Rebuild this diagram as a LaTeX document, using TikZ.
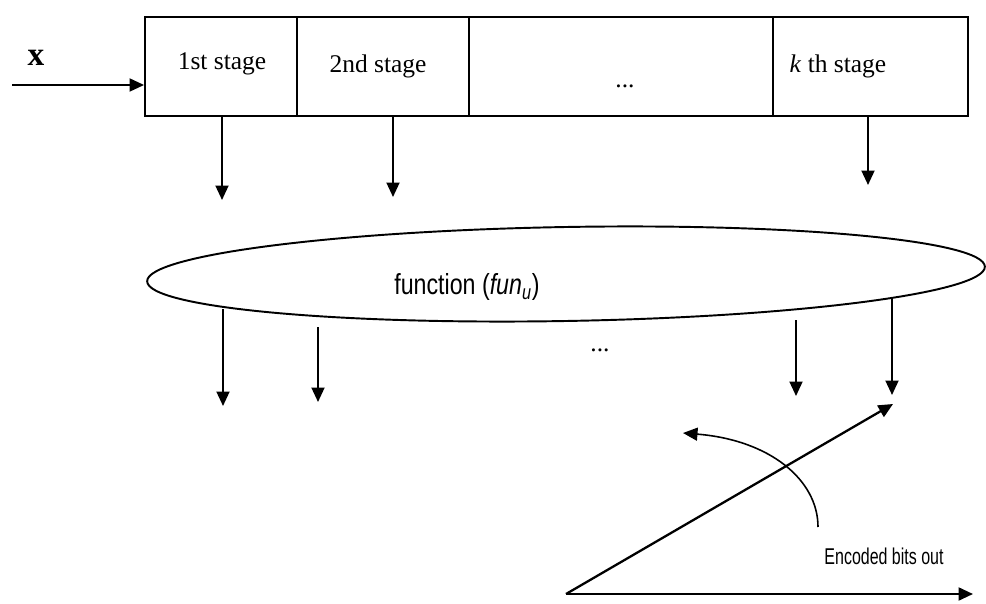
\documentclass[tikz,border=0pt]{standalone}
\usepackage{fontspec}
\setmainfont{Liberation Serif}
\newfontfamily\narrowsf[FakeStretch=0.8]{Liberation Sans}
\newfontfamily\encsf[FakeStretch=0.7]{Liberation Sans}
\usetikzlibrary{arrows.meta,shapes.geometric}

\begin{document}
\begin{tikzpicture}[x=0.02cm,y=-0.02cm,>={Triangle[length=2.9mm,width=2.6mm]},line width=1.1pt,
  stage/.style={rectangle,draw,minimum height=1.98cm,inner sep=0pt},
  lbl/.style={inner sep=0pt,font=\fontsize{14.5}{16}\selectfont},
  sflbl/.style={inner sep=0pt,font=\narrowsf\fontsize{16.5}{18}\selectfont},
  enclbl/.style={inner sep=0pt,font=\encsf\fontsize{13}{15}\selectfont}]
  \useasboundingbox (0,0) rectangle (986,604);
  % stages
  \node[stage,minimum width=3.04cm] (s1) at (221,66.5) {};
  \node[stage,minimum width=3.44cm] (s2) at (383,66.5) {};
  \node[stage,minimum width=6.08cm] (sd) at (621,66.5) {};
  \node[stage,minimum width=3.9cm] (sk) at (870.5,66.5) {};
  \node[lbl] (t1) at (222,64) {1st stage};
  \node[lbl] (t2) at (378,66) {2nd stage};
  \node[lbl] (td) at (625,86) {...};
  \node[lbl] (tk) at (838,66) {\textit{k} th stage};
  \node[lbl,font=\fontsize{19}{21}\selectfont\bfseries] (x) at (36,58) {x};
  \coordinate (in) at (12,85);
  \draw[->] (in) -- (in -| s1.west);
  % outputs of the stages
  \coordinate (o1) at (222,200);
  \coordinate (o2) at (393,197);
  \coordinate (ok) at (868,185);
  \draw[->] (s1.south -| o1) -- (o1);
  \draw[->] (s2.south -| o2) -- (o2);
  \draw[->] (sk.south -| ok) -- (ok);
  % function
  \node[ellipse,draw,minimum width=16.76cm,minimum height=1.88cm,inner sep=0pt,rotate=1] (fun) at (566,274) {};
  \node[sflbl] (funlbl) at (467,287) {function (\textit{fun}\textsubscript{\textit{u}})};
  \node[lbl] (fd) at (600,350) {...};
  % outputs of the function
  \coordinate (a1) at (223,309); \coordinate (b1) at (223,406);
  \coordinate (a2) at (318,327); \coordinate (b2) at (318,402);
  \coordinate (a3) at (796,320); \coordinate (b3) at (796,396);
  \coordinate (a4) at (892,299); \coordinate (b4) at (892,395);
  \draw[->] (a1) -- (b1);
  \draw[->] (a2) -- (b2);
  \draw[->] (a3) -- (b3);
  \draw[->] (a4) -- (b4);
  % encoded bits
  \coordinate (O) at (566,594);
  \coordinate (D) at (893,404);
  \coordinate (H) at (973,594);
  \coordinate (c0) at (818,527);
  \coordinate (c1) at (683,433);
  \draw[->,line width=1.3pt] (O) -- (D);
  \draw[->,line width=1.3pt] (O) -- (H);
  \draw[->,line width=0.9pt] (c0) .. controls (818,480) and (770,440) .. (c1);
  \node[enclbl] (enc) at (884,556) {Encoded bits out};
\end{tikzpicture}
\end{document}
